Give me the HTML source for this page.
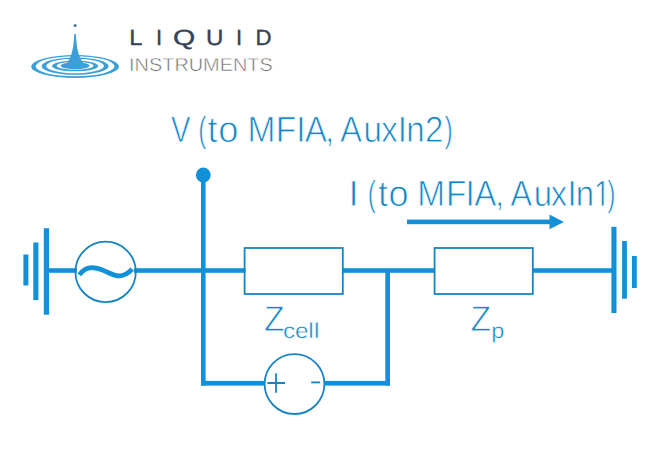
<!DOCTYPE html>
<html>
<head>
<meta charset="utf-8">
<title>Circuit</title>
<style>
html,body{margin:0;padding:0;background:#fff;}
body{width:660px;height:464px;overflow:hidden;font-family:"Liberation Sans",sans-serif;}
svg{display:block;}
text{font-family:"Liberation Sans",sans-serif;text-rendering:geometricPrecision;}
</style>
</head>
<body>
<svg width="660" height="464" viewBox="0 0 660 464">
<rect width="660" height="464" fill="#fff"/>
<!-- logo -->
<g id="logo">
  <path fill="#3d9fd8" fill-rule="evenodd" d="M31.1,66.5 a44,11.4 0 1,0 88.0,0 a44,11.4 0 1,0 -88.0,0 Z M35.7,66.25 a39.4,10.1 0 1,0 78.8,0 a39.4,10.1 0 1,0 -78.8,0 Z"/>
  <path fill="#3d9fd8" fill-rule="evenodd" d="M41.6,66.2 a33.5,8.6 0 1,0 67.0,0 a33.5,8.6 0 1,0 -67.0,0 Z M46.3,65.95 a28.8,7.3 0 1,0 57.6,0 a28.8,7.3 0 1,0 -57.6,0 Z"/>
  <path fill="#3d9fd8" fill-rule="evenodd" d="M52.0,66 a23.1,5.3 0 1,0 46.2,0 a23.1,5.3 0 1,0 -46.2,0 Z M56.7,65.75 a18.4,4.0 0 1,0 36.8,0 a18.4,4.0 0 1,0 -36.8,0 Z"/>
  <ellipse cx="75.1" cy="65.7" rx="14.4" ry="3.5" fill="#3d9fd8"/>
  <path fill="#3d9fd8" d="M74.3,34 L75.9,34 C76.5,46 77.8,57 84.5,64.5 L65.7,64.5 C72.4,57 73.7,46 74.3,34 Z"/>
  <circle cx="75.1" cy="25.5" r="1.6" fill="#457f9f"/>
  <g font-size="22" fill="#384355" stroke="#384355" stroke-width="0.4">
  <text x="129.2" y="45" textLength="13.2" lengthAdjust="spacingAndGlyphs">L</text>
  <text x="156" y="45">I</text>
  <text x="173" y="45" textLength="22.2" lengthAdjust="spacingAndGlyphs">Q</text>
  <text x="206" y="45" textLength="17.4" lengthAdjust="spacingAndGlyphs">U</text>
  <text x="236" y="45">I</text>
  <text x="255.5" y="45" textLength="16" lengthAdjust="spacingAndGlyphs">D</text>
  </g>
  <text x="129.1" y="70.9" font-size="18.7" fill="#707070" stroke="#fff" stroke-width="0.5" textLength="143.6" lengthAdjust="spacingAndGlyphs">INSTRUMENTS</text>
</g>
<!-- circuit -->
<g fill="#1291d8" stroke="none">
  <!-- left ground -->
  <rect x="23.4" y="254.5" width="5" height="31"/>
  <rect x="33.3" y="242.5" width="5.1" height="57.6"/>
  <rect x="43.8" y="228.2" width="5.3" height="86.5"/>
  <!-- main line -->
  <rect x="49" y="268.2" width="28" height="4.6"/>
  <rect x="134" y="268.2" width="111.5" height="4.6"/>
  <rect x="342" y="268.2" width="93" height="4.6"/>
  <rect x="532" y="268.2" width="80" height="4.6"/>
  <!-- V vertical -->
  <rect x="201" y="175" width="4.6" height="210.6"/>
  <circle cx="203.3" cy="175" r="7.4"/>
  <!-- bottom -->
  <rect x="201" y="380.9" width="64" height="4.7"/>
  <rect x="324" y="380.9" width="66" height="4.7"/>
  <rect x="385.3" y="270" width="4.7" height="115.6"/>
  <!-- arrow -->
  <rect x="407" y="219.6" width="145" height="4.6"/>
  <path d="M549.5,214.5 L563.9,221.9 L549.5,229.2 Z"/>
  <!-- right ground -->
  <rect x="611.4" y="226.8" width="5.1" height="86.2"/>
  <rect x="622.1" y="241" width="4.8" height="57.7"/>
  <rect x="632" y="256" width="4.8" height="32"/>
</g>
<g fill="none" stroke="#1885c2" stroke-width="1.8">
  <circle cx="105.6" cy="271.9" r="30.2"/>
  <rect x="244.6" y="248.0" width="98.2" height="46"/>
  <rect x="434.6" y="248.0" width="98.2" height="46"/>
  <circle cx="294.5" cy="384.1" r="29.9"/>
  <path d="M267.4,383 H285 M276,373.3 V392.7"/>
  <path d="M311.2,382.4 H320.1"/>
</g>
<path d="M79.3,274.9 C83,270 87,267.7 91.8,267.7 C98,267.7 101,269.5 106,271.6 C111,273.8 114,275.9 119.1,275.9 C124,275.9 128,273.5 132.2,269.1" fill="none" stroke="#1291d8" stroke-width="4.8" stroke-linecap="butt"/>
<g id="labels" fill="#1586c6" stroke="#fff" stroke-linejoin="round">
  <text transform="translate(0,142.2) scale(0.7970,1)" x="214.64" font-size="36.6" stroke-width="0.8">V</text>
  <text transform="translate(0,142.2) scale(0.6768,1)" x="292.87" font-size="36.6" stroke-width="0.8">(</text>
  <text transform="translate(0,142.2) scale(0.9904,1)" x="209.53 220.38" font-size="36.6" stroke-width="0.8">to</text>
  <text transform="translate(0,142.2) scale(0.9156,1)" x="270.20 301.23 323.66 332.76 355.06" font-size="36.6" stroke-width="0.8">MFIA,</text>
  <text transform="translate(0,142.2) scale(0.9053,1)" x="375.46 401.54 421.15 439.31 448.71 469.34" font-size="36.6" stroke-width="0.8">AuxIn2</text>
  <text transform="translate(0,142.2) scale(0.6768,1)" x="656.60" font-size="36.6" stroke-width="0.8">)</text>
  <text transform="translate(0,206.1) scale(1.0000,1)" x="348.54" font-size="36.4" stroke-width="0.8">I</text>
  <text transform="translate(0,206.1) scale(0.6768,1)" x="543.41" font-size="36.4" stroke-width="0.8">(</text>
  <text transform="translate(0,206.1) scale(0.9904,1)" x="381.61 392.38" font-size="36.4" stroke-width="0.8">to</text>
  <text transform="translate(0,206.1) scale(0.9156,1)" x="455.84 487.24 508.48 518.06 540.54" font-size="36.4" stroke-width="0.8">MFIA,</text>
  <text transform="translate(0,206.1) scale(0.9053,1)" x="563.76 589.66 608.49 626.79 636.06" font-size="36.4" stroke-width="0.8">AuxIn</text>
  <clipPath id="c1"><path d="M589.30,166.1 H606.60 V202.98 H603.60 V211.1 H601.82 V202.98 H589.30 Z"/></clipPath>
  <g clip-path="url(#c1)"><text transform="translate(0,206.1) scale(0.8005,1)" x="742.11" font-size="36.4" stroke-width="0.8">1</text></g>
  <text transform="translate(0,206.1) scale(0.6768,1)" x="897.23" font-size="36.4" stroke-width="0.8">)</text>
  <text transform="translate(0,331.05) scale(0.9355,1)" x="282.11" font-size="36.0" stroke-width="0.8">Z</text>
  <text transform="translate(0,337.5) scale(1.1365,1)" x="248.97 259.47 271.26 276.37" font-size="21.5" stroke-width="0.4">cell</text>
  <text transform="translate(0,331.05) scale(0.9355,1)" x="503.01" font-size="36.0" stroke-width="0.8">Z</text>
  <text transform="translate(0,338.0) scale(1.0963,1)" x="448.03" font-size="21.5" stroke-width="0.4">p</text>
</g>
</svg>
</body>
</html>
